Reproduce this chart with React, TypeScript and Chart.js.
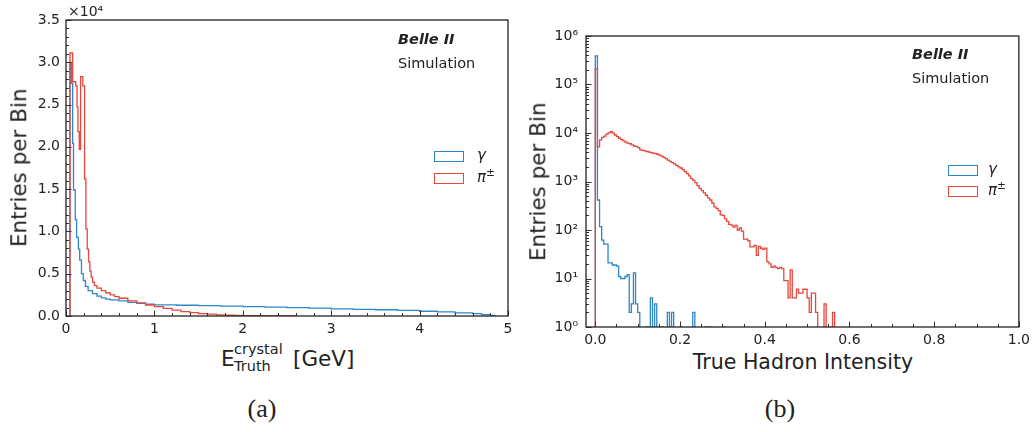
import React, { useEffect, useRef } from "react";
import { Chart, registerables } from "chart.js";
Chart.register(...registerables);

const BLUE = "#2f86c8";
const RED = "#e8473b";
const FONT = "DejaVu Sans";
const INK = "#222222";

// ---------- Panel (a): E_Truth^crystal [GeV] ----------
const gammaEdgesA = [0.045, 0.06, 0.075, 0.085, 0.105, 0.12, 0.14, 0.155, 0.175, 0.195, 0.22, 0.25, 0.3, 0.35, 0.4, 0.45, 0.5, 0.6, 0.7, 0.8, 0.9, 1.0, 1.25, 1.5, 1.75, 2.0, 2.25, 2.5, 2.75, 3.0, 3.25, 3.5, 3.75, 4.0, 4.2, 4.4, 4.6, 4.7, 4.8, 4.85];
const gammaCountsA = [30000, 27500, 20400, 14900, 11400, 9300, 7900, 6600, 5000, 4200, 3500, 3000, 2650, 2350, 2150, 2000, 1900, 1780, 1620, 1500, 1400, 1320, 1270, 1220, 1170, 1120, 1060, 1000, 940, 850, 790, 740, 670, 560, 480, 380, 270, 170, 70];
const pionEdgesA = [0.045, 0.075, 0.11, 0.125, 0.135, 0.15, 0.165, 0.19, 0.21, 0.225, 0.24, 0.255, 0.27, 0.285, 0.3, 0.32, 0.35, 0.4, 0.45, 0.5, 0.55, 0.6, 0.7, 0.8, 0.9, 1.0, 1.1, 1.2, 1.3, 1.4, 1.5, 1.6, 1.7, 1.8, 1.9, 2.0, 2.2, 2.4, 2.6];
const pionCountsA = [31100, 27700, 27200, 24700, 21800, 19700, 28300, 27200, 16200, 10300, 7900, 6400, 5300, 4600, 4000, 3600, 3300, 3000, 2750, 2500, 2300, 2100, 1800, 1550, 1300, 1100, 900, 700, 520, 390, 290, 210, 140, 90, 60, 30, 12, 4];
const xTicksA = [0, 1, 2, 3, 4, 5];
const yTicksA = [0, 5000, 10000, 15000, 20000, 25000, 30000, 35000];

// ---------- Panel (b): True Hadron Intensity, bins of 0.005 ----------
const hadronBinWidth = 0.005;
const gammaCountsB = [390000, 415, 117, 62, 51, 51, 21, 21, 19, 19, 18, 11, 10, 10, 11, 12, 2, 3, 13, 3, 2, 0, 0, 0, 1, 0, 4, 0, 3, 0, 0, 1, 0, 0, 2, 0, 2, 0, 0, 0, 1, 0, 0, 0, 0, 0, 2, 0, 0, 0, 0, 0, 1, 0, 1, 0, 0, 0, 0, 0, 1, 0];
const pionCountsB = [210000, 5200, 7200, 8100, 8600, 9500, 10100, 10600, 10100, 9100, 8400, 7800, 7300, 6900, 6500, 6200, 6000, 5700, 5400, 5300, 5000, 4500, 4400, 4300, 4150, 4050, 3950, 3850, 3750, 3650, 3500, 3350, 3150, 2950, 2750, 2600, 2450, 2300, 2150, 2000, 1900, 1750, 1600, 1450, 1300, 1150, 1050, 950, 820, 720, 650, 580, 520, 460, 415, 360, 300, 280, 250, 205, 200, 170, 150, 130, 126, 115, 125, 100, 110, 95, 65, 65, 60, 45, 45, 48, 30, 46, 42, 40, 42, 22, 20, 17, 18, 17, 16, 17, 16, 9, 9, 4, 15, 4, 4, 6, 5, 5, 6, 6, 4, 2, 5, 5, 2, 0, 0, 0, 3, 0, 0, 0, 2, 0];
const xTicksB = [0, 0.2, 0.4, 0.6, 0.8, 1.0];
const yTicksB = [1, 10, 100, 1000, 10000, 100000, 1000000];
const SUP = ["⁰", "¹", "²", "³", "⁴", "⁵", "⁶"];

function stepPoints(edges: number[], counts: number[], floor: number) {
  const pts = [{ x: edges[0], y: floor }];
  counts.forEach((c, i) => pts.push({ x: edges[i], y: c > 0 ? c : floor }));
  pts.push({ x: edges[edges.length - 1], y: floor });
  return pts;
}

function makeDecor(t: { xMajor: number[]; xMinor: number[]; yMajor: number[]; yMinor: number[] }) {
  return {
    id: "decor",
    afterDatasetsDraw(chart: any) {
      const { ctx, chartArea } = chart;
      const { left, right, top, bottom } = chartArea;
      const xs = chart.scales.x;
      const ys = chart.scales.y;
      ctx.save();
      ctx.strokeStyle = "#333";
      ctx.lineWidth = 1;
      ctx.beginPath();
      const vx = (v: number, len: number) => {
        const p = Math.round(xs.getPixelForValue(v)) + 0.5;
        ctx.moveTo(p, bottom);
        ctx.lineTo(p, bottom - len);
      };
      const vy = (v: number, len: number) => {
        const p = Math.round(ys.getPixelForValue(v)) + 0.5;
        ctx.moveTo(left, p);
        ctx.lineTo(left + len, p);
      };
      t.xMajor.forEach((v) => vx(v, 5.5));
      t.xMinor.forEach((v) => vx(v, 3));
      t.yMajor.forEach((v) => vy(v, 5.5));
      t.yMinor.forEach((v) => vy(v, 3));
      ctx.stroke();
      ctx.strokeStyle = INK;
      ctx.lineWidth = 1.3;
      ctx.strokeRect(left, top, right - left, bottom - top);
      ctx.restore();
    },
  };
}

const tickFont = { family: FONT, size: 14 };

function Txt(props: { x: number; y: number; size: number; children: any; family?: string; style?: any; anchor?: string; serif?: boolean }) {
  const { x, y, size, children, family, style, anchor, serif } = props;
  const k = serif ? 0.8375 : 0.846;
  return (
    <div
      style={{
        position: "absolute",
        left: x,
        top: y - size * k,
        fontSize: size,
        lineHeight: `${size}px`,
        fontFamily: family || FONT,
        whiteSpace: "nowrap",
        color: INK,
        transform: anchor === "middle" ? "translateX(-50%)" : undefined,
        ...(style || {}),
      }}
    >
      {children}
    </div>
  );
}

function VTitle(props: { cx: number; cy: number; size: number; text: string }) {
  const W = 240;
  return (
    <div
      style={{
        position: "absolute",
        left: props.cx - W / 2,
        top: props.cy - props.size / 2,
        width: W,
        height: props.size,
        lineHeight: `${props.size}px`,
        fontSize: props.size,
        fontFamily: FONT,
        textAlign: "center",
        color: INK,
        whiteSpace: "nowrap",
        transform: "rotate(-90deg)",
      }}
    >
      {props.text}
    </div>
  );
}

function LegendBox(props: { x: number; y: number; color: string }) {
  return (
    <div
      style={{
        position: "absolute",
        left: props.x,
        top: props.y,
        width: 30,
        height: 10.5,
        boxSizing: "border-box",
        border: `1.3px solid ${props.color}`,
        background: "#fff",
      }}
    />
  );
}

export default function App() {
  const refA = useRef<HTMLCanvasElement>(null);
  const refB = useRef<HTMLCanvasElement>(null);

  useEffect(() => {
    const xMinorA: number[] = [];
    for (let i = 1; i < 25; i++) if (i % 5 !== 0) xMinorA.push(i * 0.2);
    const yMinorA: number[] = [];
    for (let i = 1; i < 35; i++) if (i % 5 !== 0) yMinorA.push(i * 1000);
    const xMinorB: number[] = [];
    for (let i = 1; i < 20; i++) if (i % 4 !== 0) xMinorB.push(i * 0.05);
    const yMinorB: number[] = [];
    for (let e = 0; e < 6; e++) for (let m = 2; m < 10; m++) yMinorB.push(m * Math.pow(10, e));

    const edgesGB = gammaCountsB.map((_, i) => i * hadronBinWidth).concat([gammaCountsB.length * hadronBinWidth]);
    const edgesPB = pionCountsB.map((_, i) => i * hadronBinWidth).concat([pionCountsB.length * hadronBinWidth]);

    const common = {
      pointRadius: 0,
      borderWidth: 1.3,
      fill: false,
      stepped: true,
      tension: 0,
    };

    const chartA = new Chart(refA.current!, {
      type: "line",
      data: {
        datasets: [
          { ...common, label: "π±", data: stepPoints(pionEdgesA, pionCountsA, 0), borderColor: RED, order: 0 } as any,
          { ...common, label: "γ", data: stepPoints(gammaEdgesA, gammaCountsA, 0), borderColor: BLUE, order: 1 } as any,
        ],
      },
      options: {
        animation: false,
        responsive: false,
        events: [],
        layout: { padding: { top: 20, right: 12, left: 0, bottom: 0 } },
        plugins: { legend: { display: false }, tooltip: { enabled: false } },
        scales: {
          x: {
            type: "linear",
            min: 0,
            max: 5,
            grid: { display: false, drawTicks: false },
            border: { display: false },
            afterBuildTicks: (s: any) => { s.ticks = xTicksA.map((v) => ({ value: v })); },
            ticks: { font: tickFont, color: INK, padding: 5, autoSkip: false, maxRotation: 0, callback: (v: any) => String(v) },
            afterFit: (s: any) => { s.height = 24; },
          },
          y: {
            type: "linear",
            min: 0,
            max: 35000,
            grid: { display: false, drawTicks: false },
            border: { display: false },
            afterBuildTicks: (s: any) => { s.ticks = yTicksA.map((v) => ({ value: v })); },
            ticks: { font: tickFont, color: INK, padding: 6, autoSkip: false, callback: (v: any) => (Number(v) / 1e4).toFixed(1) },
            afterFit: (s: any) => { s.width = 66; },
          },
        },
      } as any,
      plugins: [makeDecor({ xMajor: xTicksA, xMinor: xMinorA, yMajor: yTicksA, yMinor: yMinorA })],
    });

    const chartB = new Chart(refB.current!, {
      type: "line",
      data: {
        datasets: [
          { ...common, label: "π±", data: stepPoints(edgesPB, pionCountsB, 0.1), borderColor: RED, order: 0 } as any,
          { ...common, label: "γ", data: stepPoints(edgesGB, gammaCountsB, 0.1), borderColor: BLUE, order: 1 } as any,
        ],
      },
      options: {
        animation: false,
        responsive: false,
        events: [],
        layout: { padding: { top: 36, right: 15, left: 0, bottom: 0 } },
        plugins: { legend: { display: false }, tooltip: { enabled: false } },
        scales: {
          x: {
            type: "linear",
            min: -0.022,
            max: 1.0,
            grid: { display: false, drawTicks: false },
            border: { display: false },
            afterBuildTicks: (s: any) => { s.ticks = xTicksB.map((v) => ({ value: v })); },
            ticks: { font: tickFont, color: INK, padding: 5, autoSkip: false, maxRotation: 0, callback: (v: any) => Number(v).toFixed(1) },
            afterFit: (s: any) => { s.height = 23; },
          },
          y: {
            type: "logarithmic",
            min: 1,
            max: 1000000,
            grid: { display: false, drawTicks: false },
            border: { display: false },
            afterBuildTicks: (s: any) => { s.ticks = yTicksB.map((v) => ({ value: v })); },
            ticks: {
              font: tickFont,
              color: INK,
              padding: 8,
              autoSkip: false,
              callback: (v: any) => "10" + SUP[Math.round(Math.log10(Number(v)))],
            },
            afterFit: (s: any) => { s.width = 66; },
          },
        },
      } as any,
      plugins: [makeDecor({ xMajor: xTicksB, xMinor: xMinorB, yMajor: yTicksB, yMinor: yMinorB })],
    });

    return () => {
      chartA.destroy();
      chartB.destroy();
    };
  }, []);

  return (
    <div style={{ position: "fixed", left: 0, top: 0, width: 1035, height: 432, background: "#fff", overflow: "hidden" }}>
      <canvas ref={refA} width={520} height={340} style={{ position: "absolute", left: 0, top: 0, width: 520, height: 340 }} />
      <canvas ref={refB} width={515} height={350} style={{ position: "absolute", left: 520, top: 0, width: 515, height: 350 }} />

      {/* Panel (a) texts */}
      <Txt x={68} y={16} size={14}>×10⁴</Txt>
      <VTitle cx={19} cy={168} size={21.5} text="Entries per Bin" />
      <Txt x={221} y={366} size={21.5}>E</Txt>
      <Txt x={234} y={354} size={14.5}>crystal</Txt>
      <Txt x={234} y={371} size={14.5}>Truth</Txt>
      <Txt x={293} y={366} size={21.5}>[GeV]</Txt>
      <Txt x={398} y={44} size={14.5} style={{ fontWeight: "bold", fontStyle: "italic" }}>Belle II</Txt>
      <Txt x={398} y={68.3} size={14.5}>Simulation</Txt>
      <LegendBox x={434} y={151} color={BLUE} />
      <LegendBox x={434} y={173} color={RED} />
      <Txt x={477} y={160.5} size={15} style={{ fontStyle: "italic" }}>γ</Txt>
      <Txt x={477} y={182.5} size={15} style={{ fontStyle: "italic" }}>
        π<span style={{ position: "relative", top: -6, fontSize: 10.5, fontStyle: "normal" }}>±</span>
      </Txt>
      <Txt x={262} y={418} size={26} family="Liberation Serif" serif anchor="middle">(a)</Txt>

      {/* Panel (b) texts */}
      <VTitle cx={537.6} cy={181.5} size={21.5} text="Entries per Bin" />
      <Txt x={803} y={369} size={20.5} anchor="middle">True Hadron Intensity</Txt>
      <Txt x={912} y={59.3} size={14.5} style={{ fontWeight: "bold", fontStyle: "italic" }}>Belle II</Txt>
      <Txt x={912} y={83.3} size={14.5}>Simulation</Txt>
      <LegendBox x={948} y={165} color={BLUE} />
      <LegendBox x={948} y={186} color={RED} />
      <Txt x={988} y={174.5} size={15} style={{ fontStyle: "italic" }}>γ</Txt>
      <Txt x={988} y={195.5} size={15} style={{ fontStyle: "italic" }}>
        π<span style={{ position: "relative", top: -6, fontSize: 10.5, fontStyle: "normal" }}>±</span>
      </Txt>
      <Txt x={780} y={418} size={26} family="Liberation Serif" serif anchor="middle">(b)</Txt>
    </div>
  );
}
